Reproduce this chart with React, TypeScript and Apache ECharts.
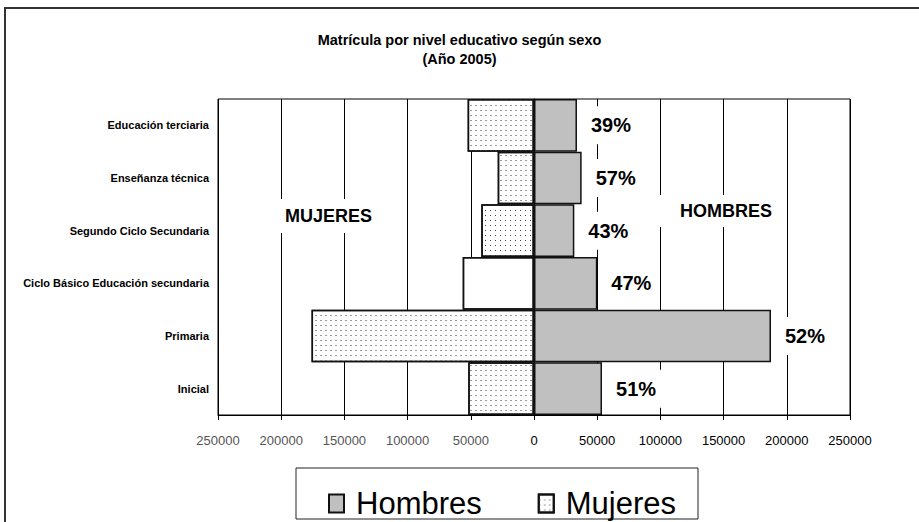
import React, { useEffect, useRef } from 'react';
import * as echarts from 'echarts';

const categories = [
  'Educación terciaria',
  'Enseñanza técnica',
  'Segundo Ciclo Secundaria',
  'Ciclo Básico Educación secundaria',
  'Primaria',
  'Inicial',
];
const hombres = [34000, 37700, 31900, 50100, 187500, 53800];
const mujeres = [52500, 28700, 41700, 56400, 176000, 52000];
const hombresShare = ['39%', '57%', '43%', '47%', '52%', '51%'];
const xMin = -250000;
const xMax = 250000;
const xStep = 50000;

// fill pattern of each Mujeres bar
const mujeresPattern = ['fine', 'fine', 'dots', 'none', 'fine', 'fine'];

const FONT = "'Liberation Sans', Arial, Helvetica, sans-serif";

const decals: Record<string, any> = {
  fine: { symbol: 'rect', symbolSize: 1, color: '#9a9a9a', dashArrayX: [2, 3], dashArrayY: [1, 4], rotation: 0 },
  dots: { symbol: 'rect', symbolSize: 1, color: '#444444', dashArrayX: [1, 4], dashArrayY: [1, 4], rotation: 0 },
  none: { symbol: 'rect', symbolSize: 1, color: 'rgba(0,0,0,0)', dashArrayX: [1, 4], dashArrayY: [1, 4], rotation: 0 },
};

export default function App() {
  const ref = useRef<HTMLDivElement>(null);
  useEffect(() => {
    document.body.style.margin = '0';
    document.body.style.overflow = 'hidden';
    const chart = echarts.init(ref.current!, null, { renderer: 'svg' });
    const option: any = {
      animation: false,
      backgroundColor: '#fff',
      title: {
        text: 'Matrícula por nivel educativo según sexo\n(Año 2005)',
        left: 'center',
        top: 25,
        textStyle: { fontSize: 14.5, fontWeight: 'bold', fontFamily: FONT, color: '#000', lineHeight: 19 },
      },
      grid: {
        left: 218,
        right: 69,
        top: 99,
        bottom: 107,
        show: true,
        borderColor: '#000',
        borderWidth: 1,
        backgroundColor: '#fff',
        containLabel: false,
        outerBoundsMode: 'none',
      },
      legend: {
        data: ['Hombres', 'Mujeres'],
        left: 328,
        top: 488,
        itemWidth: 15,
        itemHeight: 18,
        itemGap: 56,
        icon: 'rect',
        padding: 0,
        textStyle: { fontFamily: FONT, fontSize: 31, color: '#000', lineHeight: 31, padding: [0, 0, 0, 7] },
      },
      xAxis: {
        type: 'value',
        min: xMin,
        max: xMax,
        interval: xStep,
        axisLine: { show: true, lineStyle: { color: '#000', width: 1 } },
        axisTick: { show: true, length: 5, lineStyle: { color: '#000' } },
        splitLine: { show: true, lineStyle: { color: '#000', width: 1 } },
        axisLabel: {
          margin: 19,
          formatter: (v: number) => (v < 0 ? `{g|${Math.abs(v)}}` : `{k|${v}}`),
          rich: {
            g: { color: '#555', fontSize: 13, fontFamily: FONT },
            k: { color: '#000', fontSize: 13, fontFamily: FONT },
          },
        },
      },
      yAxis: {
        type: 'category',
        data: categories,
        inverse: true,
        axisLine: { show: true, lineStyle: { color: '#000', width: 1 } },
        axisTick: { show: false },
        splitLine: { show: false },
        axisLabel: {
          fontWeight: 'bold',
          fontSize: 11,
          fontFamily: FONT,
          color: '#000',
          margin: 9,
          padding: [6, 0, 0, 0],
        },
      },
      series: [
        {
          name: 'Hombres',
          type: 'bar',
          stack: 'total',
          barWidth: '100%',
          barCategoryGap: 0,
          data: hombres,
          itemStyle: { color: '#c0c0c0', borderColor: '#111', borderWidth: 1.5 },
          label: {
            show: true,
            position: 'right',
            distance: 11,
            formatter: (p: any) => hombresShare[p.dataIndex],
            fontFamily: FONT,
            fontSize: 20,
            fontWeight: 'bold',
            color: '#000',
            backgroundColor: '#fff',
            padding: [9, 6, 9, 3],
          },
        },
        {
          name: 'Mujeres',
          type: 'bar',
          stack: 'total',
          barWidth: '100%',
          barCategoryGap: 0,
          data: mujeres.map((v, i) => ({
            value: -v,
            itemStyle: { decal: decals[mujeresPattern[i]] },
          })),
          itemStyle: { color: '#fff', borderColor: '#111', borderWidth: 1.5, decal: decals.fine },
        },
      ],
      graphic: [
        {
          type: 'rect',
          z: 0,
          shape: { x: 5, y: 8, width: 1000, height: 1000 },
          style: { fill: 'none', stroke: '#333', lineWidth: 2 },
        },
        {
          type: 'rect',
          z: 0,
          shape: { x: 296, y: 468, width: 402, height: 51 },
          style: { fill: '#fff', stroke: '#222', lineWidth: 1 },
        },
        {
          type: 'text',
          z: 50,
          x: 279,
          y: 216,
          style: {
            text: 'MUJERES',
            fontFamily: FONT,
            fontSize: 18,
            fontWeight: 'bold',
            fill: '#000',
            align: 'left',
            verticalAlign: 'middle',
            backgroundColor: '#fff',
            padding: [8, 6, 8, 6],
          },
        },
        {
          type: 'text',
          z: 50,
          x: 657,
          y: 211,
          style: {
            text: 'HOMBRES',
            fontFamily: FONT,
            fontSize: 18,
            fontWeight: 'bold',
            fill: '#000',
            align: 'left',
            verticalAlign: 'middle',
            backgroundColor: '#fff',
            padding: [7, 6, 7, 23],
          },
        },
      ],
    };
    chart.setOption(option);
    return () => chart.dispose();
  }, []);
  return <div ref={ref} style={{ position: 'absolute', left: 0, top: 0, width: 919, height: 522 }} />;
}
